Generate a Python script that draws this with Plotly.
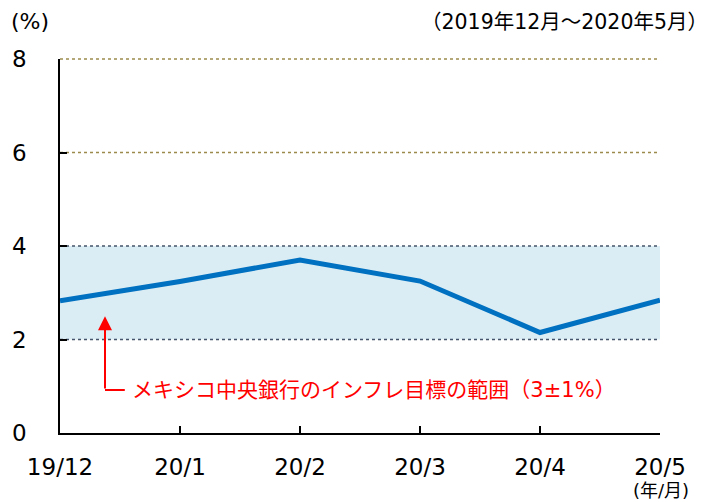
import plotly.graph_objects as go

categories = ["19/12", "20/1", "20/2", "20/3", "20/4", "20/5"]
inflation = [2.83, 3.24, 3.70, 3.25, 2.15, 2.84]
y_ticks = [0, 2, 4, 6, 8]
target_low, target_high = 2, 4

FONT = "DejaVu Sans, Noto Sans CJK JP, sans-serif"
xs = list(range(len(categories)))

fig = go.Figure()
fig.add_shape(type="rect", x0=0, x1=5, y0=target_low, y1=target_high,
              fillcolor="#daedf4", line_width=0, layer="below")
for yv, col in [(2, "#44546a"), (4, "#44546a"), (6, "#9c8a4c")]:
    fig.add_shape(type="line", x0=0, x1=5, y0=yv, y1=yv,
                  line=dict(color=col, width=1.5, dash="dot"), layer="below")
fig.add_shape(type="line", xref="paper", yref="paper", x0=0, x1=1, y0=1, y1=1,
              line=dict(color="#9c8a4c", width=1.5, dash="dot"), layer="below")

fig.add_trace(go.Scatter(x=xs, y=inflation, mode="lines",
                         line=dict(color="#0070c0", width=5), hoverinfo="skip"))

# arrow
fig.add_annotation(x=0.375, y=2.5, ax=0.375, ay=0.92, axref="x", ayref="y",
                   xref="x", yref="y", text="", showarrow=True,
                   arrowhead=2, arrowsize=1.4, arrowwidth=2, arrowcolor="#ff0000")
fig.add_shape(type="line", x0=0.375, x1=0.54, y0=0.92, y1=0.92,
              line=dict(color="#ff0000", width=2))
fig.add_annotation(x=0.585, y=0.92, xref="x", yref="y", xanchor="left", yanchor="middle",
                   text="メキシコ中央銀行のインフレ目標の範囲（3±1%）", showarrow=False,
                   font=dict(color="#ff0000", size=21, family=FONT))

fig.add_annotation(xref="paper", yref="paper", x=-0.085, y=1.099, xanchor="left", yanchor="middle",
                   text="(%)", showarrow=False,
                   font=dict(size=22, color="#000", family=FONT))
fig.add_annotation(xref="paper", yref="paper", x=1.083, y=1.10, xanchor="right", yanchor="middle",
                   text="（2019年12月～2020年5月）", showarrow=False,
                   font=dict(size=20.5, color="#000", family=FONT))
fig.add_annotation(xref="paper", yref="paper", x=1.05, y=-0.154, xanchor="right", yanchor="middle",
                   text="(年/月)", showarrow=False, borderpad=0,
                   font=dict(size=18, color="#000", family=FONT))

fig.update_layout(
    width=700, height=494,
    margin=dict(l=52, r=48, t=51, b=69, autoexpand=False),
    plot_bgcolor="white", paper_bgcolor="white",
    showlegend=False,
    font=dict(family=FONT, size=23, color="#000"),
    xaxis=dict(range=[0, 5], tickvals=xs, ticktext=categories, showgrid=False,
               zeroline=False, showline=True, linecolor="#000", linewidth=1.5,
               ticks="inside", ticklen=7, tickcolor="#000", tickwidth=1.5,
               tickfont=dict(size=23), ticklabelstandoff=13, automargin=False),
    yaxis=dict(range=[0, 8], tickvals=y_ticks, showgrid=False, zeroline=False,
               showline=True, linecolor="#000", linewidth=1.5,
               ticks="inside", ticklen=7, tickcolor="#000", tickwidth=1.5,
               tickfont=dict(size=23), ticklabelstandoff=27, automargin=False),
)
fig.write_html("out.html")
